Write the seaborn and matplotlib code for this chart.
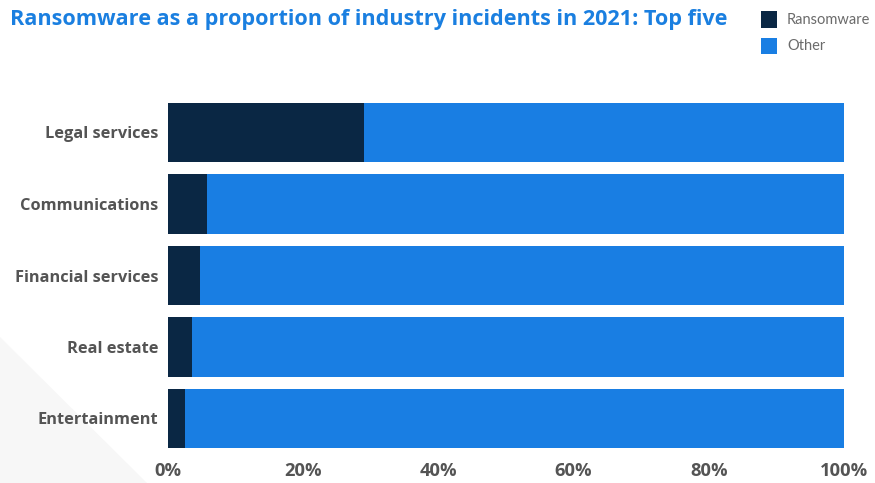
import matplotlib
matplotlib.use("Agg")
import matplotlib.pyplot as plt
from matplotlib.patches import Polygon, Rectangle
from matplotlib.ticker import PercentFormatter
import seaborn as sns
import pandas as pd

# Share of incidents per industry, 2021 (percent)
industries = ["Legal services", "Communications", "Financial services", "Real estate", "Entertainment"]
ransomware = [29.0, 5.8, 4.7, 3.6, 2.5]
other = [71.0, 94.2, 95.3, 96.4, 97.5]
x_ticks = [0, 20, 40, 60, 80, 100]
series_names = ["Ransomware", "Other"]

NAVY = "#0a2744"
BLUE = "#197ee3"
GREY = "#545454"
W, H = 875, 483


def fx(px):
    return px / W


def fy(py):
    return 1 - py / H


df = pd.DataFrame({"industry": industries, "ransomware": ransomware, "other": other})
df["total"] = df["ransomware"] + df["other"]

sns.set_theme(style="white")
plt.rcParams["font.family"] = ["Open Sans", "DejaVu Sans"]

fig = plt.figure(figsize=(W / 100, H / 100), dpi=100)
fig.patch.set_facecolor("white")

# faint decorative wedge in the lower-left corner
fig.patches.append(Polygon([(0, 0), (0, fy(337)), (fx(147), 0)],
                           closed=True, transform=fig.transFigure,
                           facecolor="#f7f7f7", edgecolor="none", zorder=-5))

ax = fig.add_axes([fx(168), fy(454.25), 676 / W, 357.5 / H])
ax.set_zorder(2)
ax.set_facecolor("none")

sns.barplot(data=df, x="total", y="industry", color=BLUE, saturation=1,
            width=0.826, orient="h", ax=ax, linewidth=0, edgecolor="none")
sns.barplot(data=df, x="ransomware", y="industry", color=NAVY, saturation=1,
            width=0.826, orient="h", ax=ax, linewidth=0, edgecolor="none")

ax.set_xlim(0, 100)
ax.set_xticks(x_ticks)
ax.xaxis.set_major_formatter(PercentFormatter(decimals=0))
ax.set_xlabel("")
ax.set_ylabel("")
for s in ax.spines.values():
    s.set_visible(False)
ax.tick_params(axis="both", length=0)
ax.tick_params(axis="y", pad=7, labelsize=11.8, labelcolor=GREY)
ax.tick_params(axis="x", pad=5.5, labelsize=13.2, labelcolor=GREY)
for lbl in ax.get_yticklabels() + ax.get_xticklabels():
    lbl.set_fontweight("bold")
ax.grid(False)

fig.text(fx(10), fy(8.5), "Ransomware as a proportion of industry incidents in 2021: Top five",
         ha="left", va="top", fontsize=15.6, fontweight="bold", color="#1a7fe0")

# legend swatches and labels
for (top, bottom, centre), name, col in zip([(11, 28, 20), (38, 54, 46)], series_names, [NAVY, BLUE]):
    fig.patches.append(Rectangle((fx(761), fy(bottom)), 16 / W, (bottom - top) / H,
                                 transform=fig.transFigure, facecolor=col, edgecolor="none"))
    fig.text(fx(787), fy(centre), name, ha="left", va="center", fontsize=10.5,
             color="#6b6b6b", family=["Lato", "DejaVu Sans"])

fig.savefig("out.png", dpi=100, facecolor="white")
